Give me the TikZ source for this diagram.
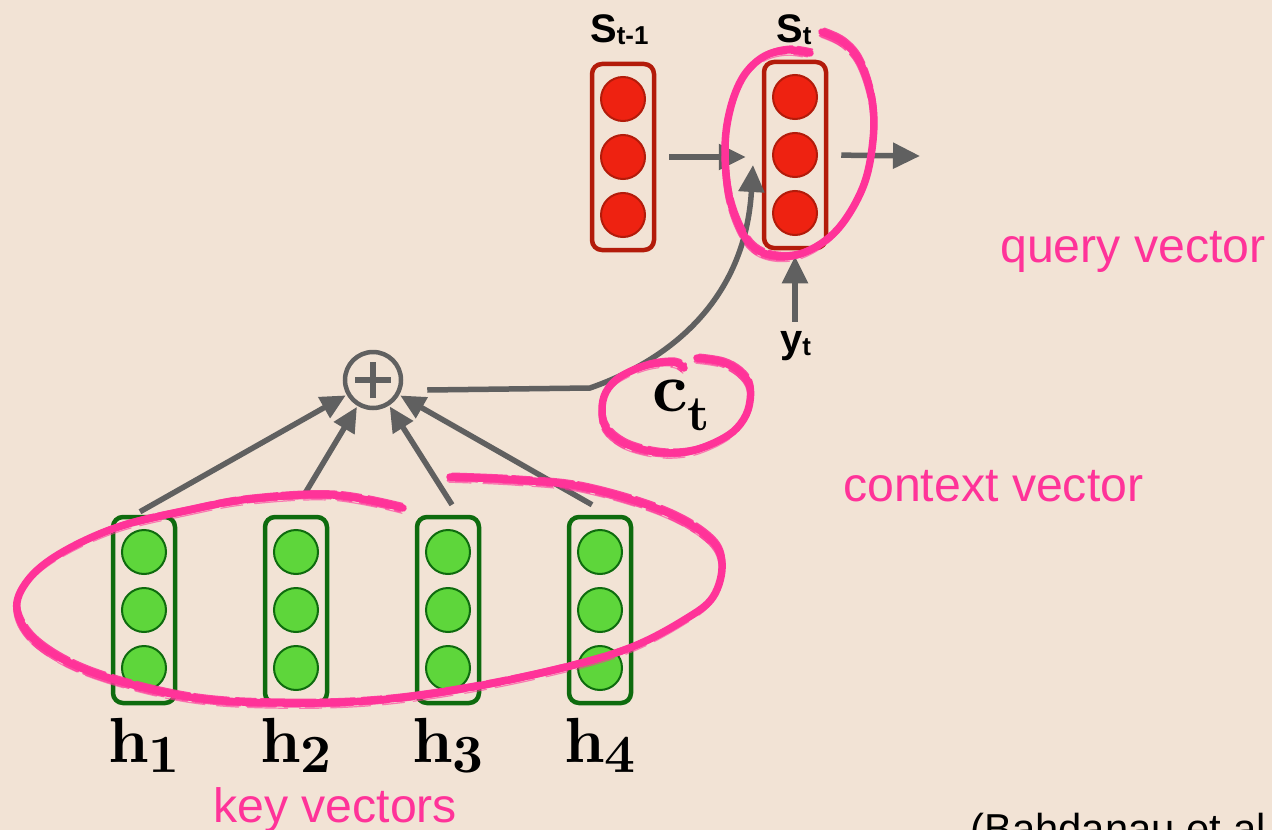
\documentclass[tikz,border=0pt]{standalone}
\usepackage{fontspec}
\newfontfamily\helv{Liberation Sans}
\newfontfamily\cmbold{lmroman10-bold.otf}
\usetikzlibrary{arrows.meta}

\definecolor{bg}{HTML}{F2E3D5}
\definecolor{ink}{HTML}{606060}
\definecolor{marker}{HTML}{FF3399}
\definecolor{rfill}{HTML}{EE2211}
\definecolor{rline}{HTML}{B31B0A}
\definecolor{gfill}{HTML}{5ED63B}
\definecolor{gline}{HTML}{0E6B0E}

\tikzset{
  vecbox/.style={draw, line width=4.5bp, rounded corners=10bp,
    minimum width=62bp, minimum height=186bp, inner sep=0pt},
  redbox/.style={vecbox, draw=rline},
  greenbox/.style={vecbox, draw=gline},
  unit/.style={circle, minimum size=44bp, inner sep=0pt, line width=2bp},
  redunit/.style={unit, draw=rline, fill=rfill},
  greenunit/.style={unit, draw=gline, fill=gfill},
  flow/.style={draw=ink, line width=5.5bp, -{Triangle[length=27bp,width=25bp]}},
  feed/.style={draw=ink, line width=5.5bp, -{Triangle[length=25bp,width=23bp]}},
  sum/.style={circle, draw=ink, line width=4.5bp, minimum size=56bp, inner sep=0pt},
  txt/.style={anchor=base west, inner sep=0pt},
  note/.style={txt, text=marker, font=\helv\fontsize{48.4}{50}\selectfont},
  hlabel/.style={anchor=base, inner sep=0pt, font=\cmbold},
}

% a marker stroke: one broad pass plus thin, broken streaks along its edges
\newcommand\markerloop[1]{%
  \draw[marker, line width=7.5bp, line cap=round, line join=round]
    plot[smooth, tension=0.6] coordinates {#1};
  \draw[marker, line width=2.2bp, opacity=.9, line cap=round, shift={(2.2,-3.4)},
    dash pattern=on 55bp off 5bp on 20bp off 7bp on 35bp off 4bp]
    plot[smooth, tension=0.6] coordinates {#1};
  \draw[marker, line width=1.8bp, opacity=.8, line cap=round, shift={(-2.5,3.6)},
    dash pattern=on 30bp off 6bp on 48bp off 5bp on 16bp off 8bp]
    plot[smooth, tension=0.6] coordinates {#1};
  \draw[marker, line width=1.2bp, opacity=.6, line cap=round, shift={(-1,5.2)},
    dash pattern=on 22bp off 12bp on 40bp off 9bp]
    plot[smooth, tension=0.6] coordinates {#1};
}

\newcommand\hlab[1]{{\fontsize{64}{64}\selectfont h}\raisebox{-10bp}{\fontsize{54}{54}\selectfont #1}}

\begin{document}
\begin{tikzpicture}[x=1bp, y=-1bp]
\useasboundingbox (0,0) rectangle (1272,830);
\clip (0,0) rectangle (1272,830);
\fill[bg] (0,0) rectangle (1272,830);

% decoder states
\node[redbox] (sprev) at (623,157) {};
\node[redbox] (scur)  at (795,155) {};
\foreach \b in {sprev, scur}
  \foreach \d/\k in {-58/1, 0/2, 58/3}
    \node[redunit] (\b-\k) at ([yshift=\d bp]\b.center) {};

% encoder states
\foreach \i/\x in {1/144, 2/296, 3/448, 4/600} {
  \node[greenbox] (h\i) at (\x,610) {};
  \foreach \d/\k in {-58/1, 0/2, 58/3}
    \node[greenunit] (h\i-\k) at ([yshift=\d bp]h\i.center) {};
  \node[hlabel] (h\i lbl) at (\x,762) {\hlab{\i}};
}

% state labels
\node[txt] (sprevlbl) at (590,42)
  {\helv\bfseries\fontsize{40}{40}\selectfont S\raisebox{-2bp}{\fontsize{26}{26}\selectfont t-1}};
\node[txt] (scurlbl) at (776,42)
  {\helv\bfseries\fontsize{40}{40}\selectfont S\raisebox{-2bp}{\fontsize{26}{26}\selectfont t}};
\node[txt] (ylbl) at (780,352)
  {\helv\bfseries\fontsize{40}{40}\selectfont y\raisebox{-3bp}{\fontsize{26}{26}\selectfont t}};
\node[txt] (ct) at (652,411)
  {\cmbold{\fontsize{70}{70}\selectfont c}\raisebox{-19bp}{\fontsize{50}{50}\selectfont t}};

% summation node
\node[sum] (plus) at (373,380) {};
\draw[ink, line width=6bp]
  ([xshift=-18bp]plus.center) -- ([xshift=18bp]plus.center)
  ([yshift=-18bp]plus.center) -- ([yshift=18bp]plus.center);

% recurrent connections
\coordinate (next) at (920,156);
\draw[flow, shorten <=13bp, shorten >=16bp] (sprev.east) -- (sprev.east -| scur.west);
\draw[flow, shorten <=13bp] (scur.east) -- (next);
\draw[flow, shorten <=9bp, shorten >=6bp] (scur.south |- ylbl.north) -- (scur.south);

% weighted inputs into the sum
\draw[feed, shorten >=1bp] ([shift={(-4,-3)}]h1.north)  -- (plus);
\draw[feed, shorten >=1bp] ([shift={(7,-18)}]h2.north)  -- (plus);
\draw[feed, shorten >=1bp] ([shift={(4,-10)}]h3.north)  -- (plus);
\draw[feed, shorten >=1bp] ([shift={(-8,-10)}]h4.north) -- (plus);

% context vector into the current state
\coordinate (bend) at (590,388);
\coordinate (ctin) at (753,165);
\draw[flow] ([shift={(24,10)}]plus.east) -- (bend)
  .. controls (670,360) and (745,300) .. (ctin);

% marker loops
\markerloop{(450,477) (517,480) (583,487) (661,510) (708,537) (722,563)
  (713,597) (684,620) (632,647) (566,667) (472,687) (378,700) (283,703)
  (189,697) (94,673) (38,643) (17,610) (28,580) (61,553) (118,527)
  (189,510) (250,499) (333,495) (403,508)}
\markerloop{(822,32) (843,42) (860,62) (872,100) (873,140) (863,187)
  (837,230) (803,253) (770,255) (747,240) (730,200) (725,150) (730,110)
  (743,77) (763,57) (787,50) (810,53)}
\markerloop{(697,358) (722,362) (740,372) (750,387) (748,410) (737,428)
  (720,440) (695,450) (670,453) (645,450) (622,442) (606,428) (602,410)
  (606,392) (620,377) (647,365) (673,362) (684,368)}

% annotations
\node[note] (query) at (1000,262) {query vector};
\node[note] (context) at (843,501) {context vector};
\node[note] (keys) at (213,822) {key vectors};
\node[txt, font=\helv\fontsize{42}{44}\selectfont] (cite) at (970,843) {(Bahdanau et al.};
\end{tikzpicture}
\end{document}
